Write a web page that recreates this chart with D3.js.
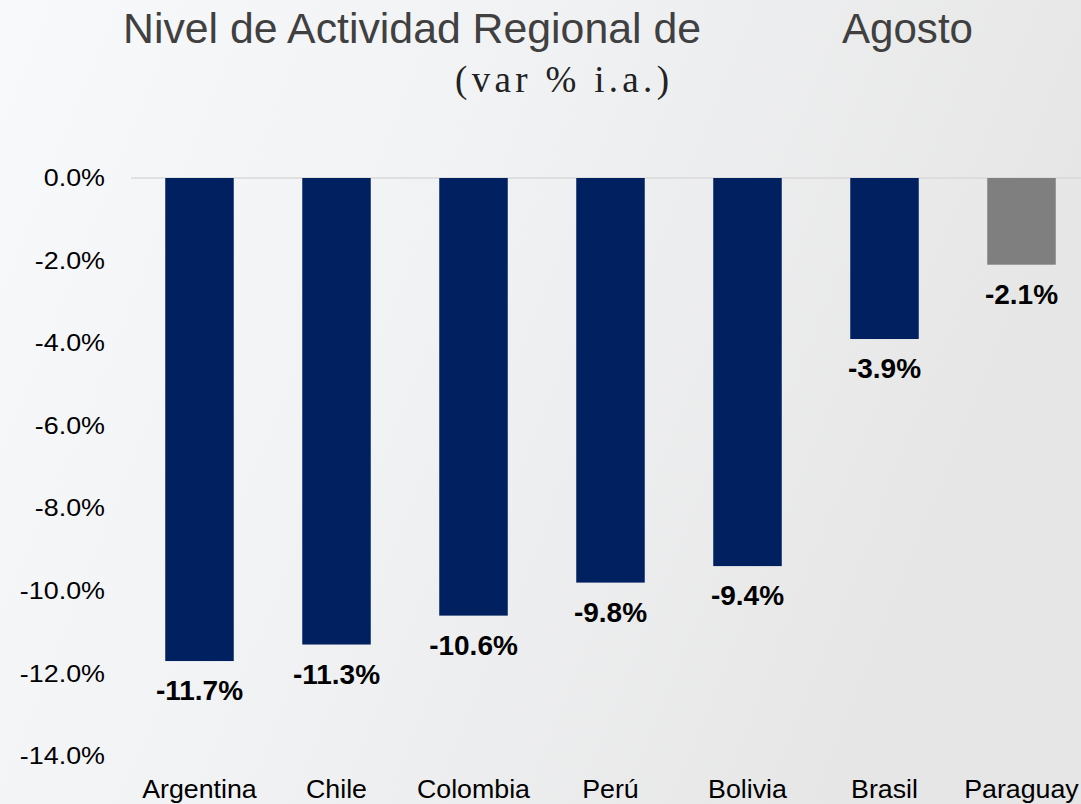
<!DOCTYPE html>
<html>
<head>
<meta charset="utf-8">
<script src="https://cdn.jsdelivr.net/npm/d3@7"></script>
<style>
  html, body { margin: 0; padding: 0; }
  body { width: 1081px; height: 804px; overflow: hidden; }
</style>
</head>
<body>
<svg id="chart"></svg>
<script>
const paises = ['Argentina', 'Chile', 'Colombia', 'Perú', 'Bolivia', 'Brasil', 'Paraguay'];
const valores = [-11.7, -11.3, -10.6, -9.8, -9.4, -3.9, -2.1];
const yTicks = [0, -2, -4, -6, -8, -10, -12, -14];

const width = 1081;
const height = 804;

// formato con guion normal
const fmt = v => d3.format('.1f')(v).replace('\u2212', '-') + '%';

// estira el texto en horizontal
function stretch(sel, k) {
    sel.each(function () {
        const len = this.getComputedTextLength();
        d3.select(this)
            .attr('textLength', len * k)
            .attr('lengthAdjust', 'spacingAndGlyphs');
    });
}

const svg = d3.select('#chart')
    .attr('width', width)
    .attr('height', height);

// fondo degradado
const grad = svg.append('defs').append('linearGradient')
    .attr('id', 'fondo')
    .attr('x1', '0%').attr('y1', '0%')
    .attr('x2', '100%').attr('y2', '30%');
grad.append('stop').attr('offset', '0%').attr('stop-color', '#f7f9fb');
grad.append('stop').attr('offset', '45%').attr('stop-color', '#f1f2f4');
grad.append('stop').attr('offset', '100%').attr('stop-color', '#e6e6e6');

svg.append('rect')
    .attr('width', width)
    .attr('height', height)
    .attr('fill', 'url(#fondo)');

// escalas
const x = d3.scaleBand()
    .domain(paises)
    .range([131, 1090])
    .paddingInner(0.5)
    .paddingOuter(0.25);

const y = d3.scaleLinear()
    .domain([0, -14])
    .range([178, 756]);

// linea de cero
svg.append('line')
    .attr('x1', 131).attr('x2', width)
    .attr('y1', y(0)).attr('y2', y(0))
    .attr('stroke', '#d9d9d9')
    .attr('stroke-width', 1.5);

// eje y
const yAxis = d3.axisLeft(y)
    .tickValues(yTicks)
    .tickSize(0)
    .tickPadding(0)
    .tickFormat(fmt);

svg.append('g')
    .attr('transform', 'translate(105,0)')
    .call(yAxis)
    .call(g => g.select('.domain').remove())
    .selectAll('text')
    .attr('font-family', 'Liberation Sans, Arial, sans-serif')
    .attr('font-size', 24)
    .attr('fill', '#000')
    .call(stretch, 1.12);

// barras
svg.selectAll('.bar')
    .data(paises)
    .enter()
    .append('rect')
    .attr('class', 'bar')
    .attr('x', d => x(d))
    .attr('width', x.bandwidth())
    .attr('y', y(0))
    .attr('height', (d, i) => y(valores[i]) - y(0))
    .attr('fill', d => d === 'Paraguay' ? '#7f7f7f' : '#002060');

// etiquetas de valor
svg.selectAll('.val')
    .data(paises)
    .enter()
    .append('text')
    .attr('class', 'val')
    .attr('x', d => x(d) + x.bandwidth() / 2)
    .attr('y', (d, i) => y(valores[i]) + 39)
    .attr('text-anchor', 'middle')
    .attr('font-family', 'Liberation Sans, Arial, sans-serif')
    .attr('font-size', 28)
    .attr('font-weight', 'bold')
    .attr('fill', '#000')
    .text((d, i) => fmt(valores[i]));

// eje x
svg.selectAll('.cat')
    .data(paises)
    .enter()
    .append('text')
    .attr('class', 'cat')
    .attr('x', d => x(d) + x.bandwidth() / 2)
    .attr('y', 798)
    .attr('text-anchor', 'middle')
    .attr('font-family', 'Liberation Sans, Arial, sans-serif')
    .attr('font-size', 25)
    .attr('fill', '#000')
    .text(d => d)
    .call(stretch, 1.07);

// titulo
svg.append('text')
    .attr('x', 123).attr('y', 43)
    .attr('font-family', 'Liberation Sans, Arial, sans-serif')
    .attr('font-size', 42)
    .attr('textLength', 578)
    .attr('lengthAdjust', 'spacingAndGlyphs')
    .attr('fill', '#404040')
    .text('Nivel de Actividad Regional de');

svg.append('text')
    .attr('x', 842).attr('y', 43)
    .attr('font-family', 'Liberation Sans, Arial, sans-serif')
    .attr('font-size', 42)
    .attr('textLength', 131)
    .attr('lengthAdjust', 'spacingAndGlyphs')
    .attr('fill', '#404040')
    .text('Agosto');

svg.append('text')
    .attr('x', 455).attr('y', 92)
    .attr('font-family', 'Liberation Serif, Times New Roman, serif')
    .attr('font-size', 37)
    .attr('textLength', 214)
    .attr('lengthAdjust', 'spacing')
    .attr('fill', '#222')
    .text('(var % i.a.)');
</script>
</body>
</html>
